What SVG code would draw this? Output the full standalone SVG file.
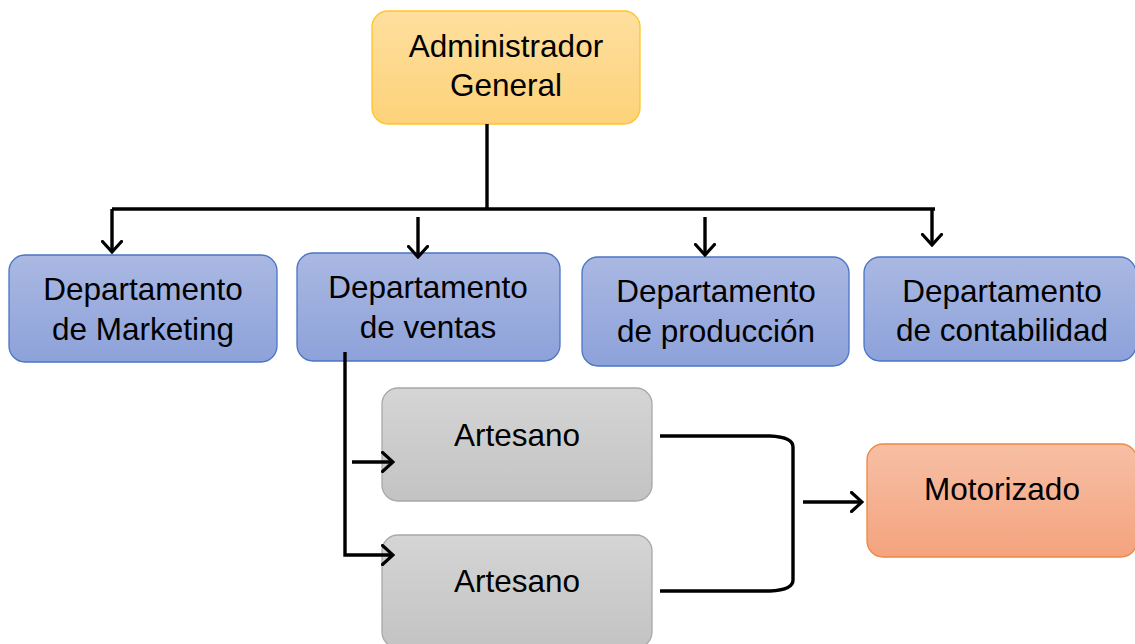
<svg xmlns="http://www.w3.org/2000/svg" width="1135" height="644" viewBox="0 0 1135 644">
<defs>
<linearGradient id="gBlue" x1="0" y1="0" x2="0" y2="1"><stop offset="0" stop-color="#AAB8E2"/><stop offset="1" stop-color="#8DA2DA"/></linearGradient>
<linearGradient id="gGold" x1="0" y1="0" x2="0" y2="1"><stop offset="0" stop-color="#FEDF9E"/><stop offset="1" stop-color="#FDD27A"/></linearGradient>
<linearGradient id="gGray" x1="0" y1="0" x2="0" y2="1"><stop offset="0" stop-color="#D5D5D5"/><stop offset="1" stop-color="#C3C3C3"/></linearGradient>
<linearGradient id="gOrange" x1="0" y1="0" x2="0" y2="1"><stop offset="0" stop-color="#F7BFA5"/><stop offset="1" stop-color="#F4A37E"/></linearGradient>
<marker id="arr" viewBox="0 0 14 22" refX="12" refY="11" markerWidth="14" markerHeight="22" markerUnits="userSpaceOnUse" orient="auto">
<path d="M1.5,1.5 L12,11 L1.5,20.5" fill="none" stroke="#000" stroke-width="3.2" stroke-linecap="round" stroke-linejoin="miter"/>
</marker>
</defs>
<style>
.blue{fill:url(#gBlue);stroke:#4A74C6;stroke-width:1.3}
.gold{fill:url(#gGold);stroke:#FFC526;stroke-width:1.3}
.gray{fill:url(#gGray);stroke:#A8A8A8;stroke-width:1.3}
.orange{fill:url(#gOrange);stroke:#EE8844;stroke-width:1.3}
text{font-family:"Liberation Sans",Arial,sans-serif;font-size:31.5px;fill:#000;text-anchor:middle}
.c{fill:none;stroke:#000;stroke-width:3.4}
</style>
<g id="admin"><rect class="gold" x="372" y="11" width="268" height="113" rx="16"/><text x="506" y="57">Administrador</text><text x="506" y="96">General</text></g>
<g id="marketing"><rect class="blue" x="9" y="255" width="268" height="107" rx="16"/><text x="143" y="300">Departamento</text><text x="143" y="340">de Marketing</text></g>
<g id="ventas"><rect class="blue" x="297" y="253" width="263" height="108" rx="16"/><text x="428" y="298">Departamento</text><text x="428" y="338">de ventas</text></g>
<g id="produccion"><rect class="blue" x="582" y="257" width="267" height="109" rx="16"/><text x="716" y="302">Departamento</text><text x="716" y="342">de producción</text></g>
<g id="contabilidad"><rect class="blue" x="864" y="257" width="272" height="104" rx="16"/><text x="1002" y="302">Departamento</text><text x="1002" y="341">de contabilidad</text></g>
<g id="artesano1"><rect class="gray" x="382" y="388" width="270" height="113" rx="16"/><text x="517" y="446">Artesano</text></g>
<g id="artesano2"><rect class="gray" x="382" y="535" width="270" height="113" rx="16"/><text x="517" y="592">Artesano</text></g>
<g id="motorizado"><rect class="orange" x="867" y="444" width="270" height="113" rx="16"/><text x="1002" y="500">Motorizado</text></g>
<g id="connectors">
<path class="c" d="M487,124 V210"/>
<path class="c" d="M112,209 H935"/>
<path class="c" d="M112,209 V252" marker-end="url(#arr)"/>
<path class="c" d="M418,217 V257" marker-end="url(#arr)"/>
<path class="c" d="M705,217 V255" marker-end="url(#arr)"/>
<path class="c" d="M932,208 V245" marker-end="url(#arr)"/>
<path class="c" d="M345,352 V555 H393" marker-end="url(#arr)"/>
<path class="c" d="M352,462 H393" marker-end="url(#arr)"/>
<path class="c" d="M660,436 H770 Q793,437 793,447 V580 Q793,590 770,591 H660"/>
<path class="c" d="M803,502 H862" marker-end="url(#arr)"/>
</g>
</svg>
